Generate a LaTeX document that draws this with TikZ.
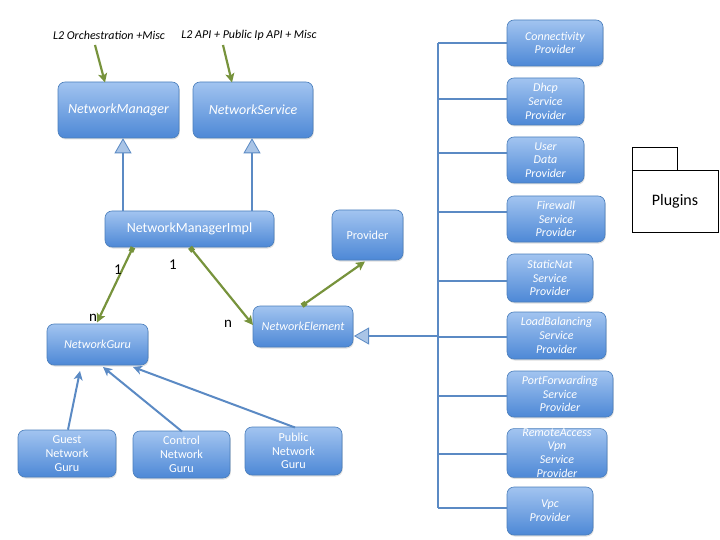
\documentclass[tikz,border=0pt]{standalone}
\usepackage{fontspec}
\setmainfont{Carlito}
\usetikzlibrary{arrows.meta,shadows}
\definecolor{boxtop}{HTML}{A2C4F0}
\definecolor{boxbot}{HTML}{4D88D6}
\definecolor{boxedge}{HTML}{4A7EBB}
\definecolor{bline}{HTML}{5B8AC4}
\definecolor{trifill}{HTML}{A9C4E6}
\definecolor{gline}{HTML}{77933C}
\tikzset{
  umlbox/.style={rounded corners=7pt, draw=boxedge, line width=0.6pt,
    top color=boxtop, bottom color=boxbot, text=white, align=center,
    inner sep=0pt,
    drop shadow={opacity=0.25, shadow xshift=0.8pt, shadow yshift=-1.5pt}},
  bigtxt/.style={font=\fontsize{14}{16}\selectfont},
  bigit/.style={font=\fontsize{14}{16}\selectfont\itshape},
  midtxt/.style={font=\fontsize{12.2}{13.8}\selectfont},
  midit/.style={font=\fontsize{12.2}{13.8}\selectfont\itshape},
  plugit/.style={font=\fontsize{12}{13.7}\selectfont\itshape},
  bconn/.style={draw=bline, line width=2pt},
  inherit/.style={bconn, -{Triangle[length=15pt,width=17pt,fill=trifill,line width=0.8pt]}},
  subarr/.style={bconn, -{Stealth[length=9pt,width=9pt,inset=2.5pt]}},
  assoc/.style={draw=gline, line width=2.2pt, {Square[length=5pt,width=5pt]}-{Stealth[length=9pt,width=9pt,inset=2pt]}},
  gin/.style={draw=gline, line width=2.2pt, -{Stealth[length=9pt,width=9pt,inset=2pt]}},
  mult/.style={font=\fontsize{15}{17}\selectfont, text=black, inner sep=0pt},
  toplab/.style={font=\fontsize{12}{14}\selectfont\itshape, text=black, inner sep=0pt}
}
\begin{document}
\begin{tikzpicture}[x=1pt,y=-1pt]
\useasboundingbox (0,0) rectangle (720,540);

% top labels
\node[toplab] (l1) at (109,35) {L2 Orchestration +Misc};
\node[toplab] (l2) at (249,35) {L2 API + Public Ip API + Misc};

% core boxes
\node[umlbox,bigit,minimum width=121pt,minimum height=56pt] (nm) at (118.5,110) {NetworkManager};
\node[umlbox,bigit,minimum width=120pt,minimum height=56pt] (ns) at (253,110) {NetworkService};
\node[umlbox,bigtxt,minimum width=169pt,minimum height=36pt] (nmi) at (189.5,229) {NetworkManagerImpl};
\node[umlbox,midtxt,minimum width=71pt,minimum height=50pt] (prov) at (367.5,235) {Provider};
\node[umlbox,midit,minimum width=100pt,minimum height=41pt] (ne) at (303,326.5) {NetworkElement};
\node[umlbox,midit,minimum width=101pt,minimum height=41pt] (ng) at (97.5,344.5) {NetworkGuru};

\node[umlbox,midtxt,minimum width=98pt,minimum height=47pt] (guest) at (67,453.5) {Guest\\Network\\Guru};
\node[umlbox,midtxt,minimum width=97pt,minimum height=47pt] (ctrl) at (181.5,454.5) {Control\\Network\\Guru};
\node[umlbox,midtxt,minimum width=97pt,minimum height=48pt] (pub) at (293.5,451) {Public\\Network\\Guru};

% plugin boxes
\node[umlbox,plugit,minimum width=96pt,minimum height=46pt] (p1) at (555,43) {Connectivity\\Provider};
\node[umlbox,plugit,minimum width=77pt,minimum height=47pt] (p2) at (545.5,101.5) {Dhcp\\Service\\Provider};
\node[umlbox,plugit,minimum width=77pt,minimum height=46pt] (p3) at (545.5,160) {User\\Data\\Provider};
\node[umlbox,plugit,minimum width=98pt,minimum height=46pt] (p4) at (556,219) {Firewall\\Service\\Provider};
\node[umlbox,plugit,minimum width=86pt,minimum height=48pt] (p5) at (550,278) {StaticNat\\Service\\Provider};
\node[umlbox,plugit,minimum width=99pt,minimum height=47pt] (p6) at (556.5,335.5) {LoadBalancing\\Service\\Provider};
\node[umlbox,plugit,minimum width=106pt,minimum height=46pt] (p7) at (560,394) {PortForwarding\\Service\\Provider};
\node[umlbox,plugit,minimum width=100pt,minimum height=48pt] (p8) at (557,453) {RemoteAccess\\Vpn\\Service\\Provider};
\node[umlbox,plugit,minimum width=86pt,minimum height=48pt] (p9) at (550,511) {Vpc\\Provider};

% plugins package
\draw[black, line width=0.8pt] (632,147) rectangle (677,170);
\node[draw=black, line width=0.8pt, minimum width=86pt, minimum height=62pt, inner sep=0pt,
      font=\fontsize{16}{18}\selectfont] (plug) at (675,201) {Plugins};

% top green arrows
\coordinate (a1) at (95,45);
\coordinate (a2) at (223,45);
\draw[gin] (a1) -- (105,82.5);
\draw[gin] (a2) -- (232,82.5);

% inheritance to NM / NS
\draw[inherit] (nmi.north -| 123,0) -- (nm.south -| 123,0);
\draw[inherit] (nmi.north -| 252,0) -- (ns.south -| 252,0);

% associations
\draw[assoc] (nmi.south -| 133,0) -- (97,322.5);
\draw[assoc] (nmi.south -| 190,0) -- (253,325);
\draw[assoc] (ne.north -| 302,0) -- (365,261.5);

% multiplicities
\node[mult] (m1) at (118,270) {1};
\node[mult] (m2) at (173,265) {1};
\node[mult] (m3) at (93,318) {n};
\node[mult] (m4) at (228,324) {n};

% guru subclasses
\draw[subarr] (guest.north -| 68,0) -- (80,371);
\draw[subarr] (182,431.5) -- (103,367);
\draw[subarr] (295,427.5) -- (133,367);

% plugin bus
\coordinate (bt) at (438,43);
\coordinate (bb) at (438,508);
\draw[bconn] (bt) -- (bb);
\foreach \n/\yy in {p1/43,p2/99,p3/153,p4/212,p5/281,p6/337,p7/396,p8/454,p9/508}{
  \draw[bconn] (438,\yy) -- (\n.west |- 0,\yy);
}
\draw[inherit] (438,336) -- (354,336);
\end{tikzpicture}
\end{document}
